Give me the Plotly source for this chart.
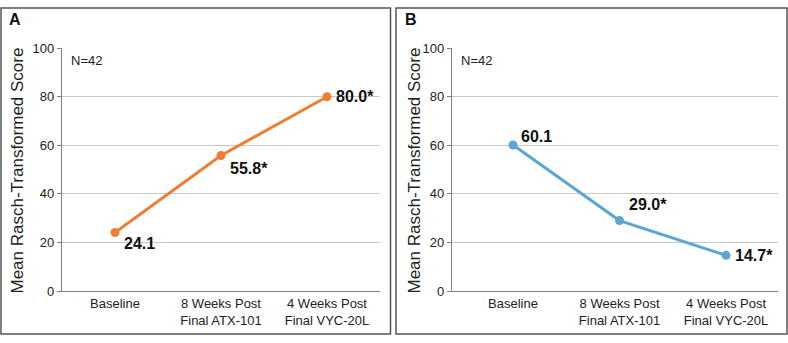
import plotly.graph_objects as go

categories = ["Baseline", "8 Weeks Post<br>Final ATX-101", "4 Weeks Post<br>Final VYC-20L"]
scores_a = [24.1, 55.8, 80.0]
labels_a = ["24.1", "55.8*", "80.0*"]
scores_b = [60.1, 29.0, 14.7]
labels_b = ["60.1", "29.0*", "14.7*"]
y_ticks = [0, 20, 40, 60, 80, 100]
panel_letters = ["A", "B"]
n_text = "N=42"
y_title = "Mean Rasch-Transformed Score"

W, H = 788, 343
FONT = "Liberation Sans, Arial, sans-serif"
ORANGE = "#EA8035"
BLUE = "#5DA5D3"

def px(x):
    return x / W

def py(y):
    return (H - y) / H

fig = go.Figure()
fig.add_trace(go.Scatter(x=categories, y=scores_a, mode="lines+markers",
                         line=dict(color=ORANGE, width=3), marker=dict(size=9, color=ORANGE),
                         xaxis="x", yaxis="y", showlegend=False, hoverinfo="skip"))
fig.add_trace(go.Scatter(x=categories, y=scores_b, mode="lines+markers",
                         line=dict(color=BLUE, width=3), marker=dict(size=9, color=BLUE),
                         xaxis="x2", yaxis="y2", showlegend=False, hoverinfo="skip"))

ydom = [py(297), py(43)]
common_y = dict(range=[0, 100], tickvals=y_ticks, showgrid=True, gridcolor="#C8C8C8", gridwidth=1,
                showline=True, linecolor="#808080", linewidth=1.2, ticks="outside", ticklen=4,
                tickcolor="#808080", tickfont=dict(family=FONT, size=13, color="#222"),
                zeroline=False, fixedrange=True)
common_x = dict(type="category", showgrid=False, showline=True, linecolor="#808080", linewidth=1.2,
                ticks="", tickfont=dict(family=FONT, size=13, color="#222"), zeroline=False,
                fixedrange=True)

fig.update_layout(
    width=W, height=H, margin=dict(l=0, r=0, t=0, b=0),
    paper_bgcolor="white", plot_bgcolor="white",
    xaxis=dict(domain=[px(62), px(380)], range=[-0.5, 2.5], anchor="y", **common_x),
    yaxis=dict(domain=ydom, anchor="x", **common_y),
    xaxis2=dict(domain=[px(452), px(778)], range=[-0.573, 2.488], anchor="y2", **common_x),
    yaxis2=dict(domain=ydom, anchor="x2", **common_y),
)

shapes = []
for x0, x1 in [(1, 390.5), (396, 787)]:
    shapes.append(dict(type="rect", xref="paper", yref="paper", x0=px(x0), x1=px(x1),
                       y0=py(342), y1=py(1), line=dict(color="#555555", width=1.5)))
fig.update_layout(shapes=shapes)

ann = []
# data labels
offs_a = [(7, -11), (7, -13), (7, 0)]
offs_b = [(6, 9), (7, 16), (7, 0)]
for (xr, yr, vals, labs, offs) in [("x", "y", scores_a, labels_a, offs_a),
                                   ("x2", "y2", scores_b, labels_b, offs_b)]:
    for c, v, t, (dx, dy) in zip(categories, vals, labs, offs):
        ann.append(dict(x=c, y=v, xref=xr, yref=yr, text="<b>%s</b>" % t, showarrow=False,
                        xanchor="left", yanchor="middle", xshift=dx, yshift=dy,
                        font=dict(family=FONT, size=16, color="#111")))
# panel letters, N, titles
for letter, x0, n_x, t_x in [(panel_letters[0], 7, 69, 18), (panel_letters[1], 403, 459, 415)]:
    ann.append(dict(x=px(x0), y=py(13), xref="paper", yref="paper", text="<b>%s</b>" % letter,
                    showarrow=False, xanchor="left", yanchor="middle",
                    font=dict(family=FONT, size=16, color="#111")))
    ann.append(dict(x=px(n_x), y=py(56), xref="paper", yref="paper", text=n_text,
                    showarrow=False, xanchor="left", yanchor="middle",
                    font=dict(family=FONT, size=13, color="#222")))
    ann.append(dict(x=px(t_x), y=py(171), xref="paper", yref="paper", text=y_title,
                    showarrow=False, textangle=-90, xanchor="center", yanchor="middle",
                    font=dict(family=FONT, size=17, color="#222")))
fig.update_layout(annotations=ann)

fig.write_html("out.html")
